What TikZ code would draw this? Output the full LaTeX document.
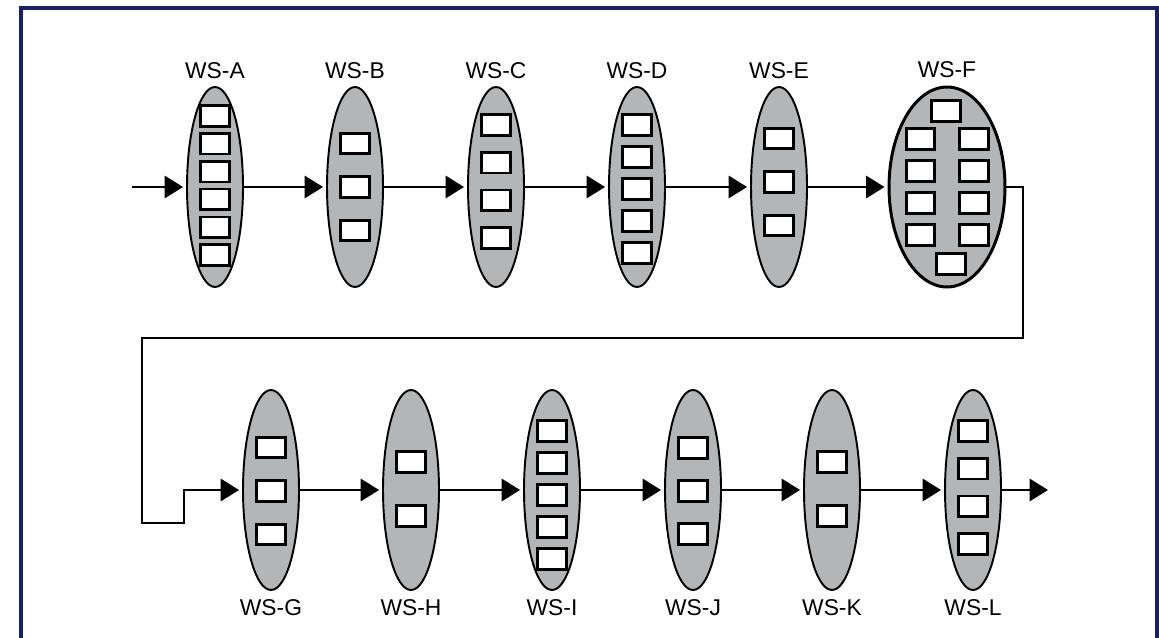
\documentclass[tikz,border=0pt]{standalone}
\usepackage{fontspec}
\setmainfont{Liberation Sans}
\usepackage{tikz}
\usetikzlibrary{arrows.meta,positioning,shapes.geometric}
\usepackage{xcolor}

\definecolor{wsgray}{RGB}{180,181,183}
\definecolor{framenavy}{RGB}{26,32,104}

% a column of n work places inside a station: name, count, pitch, shift
\newcommand{\wsslots}[4]{%
  \foreach \i in {1,...,#2}
    \node [slot] (#1-\i) at ([yshift={((#2+1)/2-\i)*#3+#4}]#1.center) {};%
}

\begin{document}
\begin{tikzpicture}[
    x=0.02cm,
    y=-0.02cm,
    >={Triangle[length=0.37cm,width=0.45cm]},
    font=\fontsize{13pt}{15pt}\selectfont,
    station/.style={
		ellipse,
		draw=black,
		line width=1.1pt,
		fill=wsgray,
		inner sep=0pt,
		minimum width=1.12cm,
		minimum height=4cm
	},
	slot/.style={
		rectangle,
		draw=black,
		line width=1.5pt,
		fill=white,
		inner sep=0pt,
		minimum width=0.57cm,
		minimum height=0.41cm
	},
	tag/.style={
		inner sep=0pt
	},
	flow/.style={
		line width=1.1pt,
		shorten >=0.06cm
	}
  ]

 \useasboundingbox (0,0) rectangle (1159,638);
 \draw [framenavy, line width=1.9pt] (21,8) rectangle (1157,690);

% // first line
 \node [station] (wsA) at (215,187) {};
 \node [station] (wsB) at (355,187) {};
 \node [station] (wsC) at (496,187) {};
 \node [station] (wsD) at (637,187) {};
 \node [station] (wsE) at (779,187) {};
 \node [station, minimum width=2.32cm, line width=1.7pt] (wsF) at (947,187) {};

 \wsslots{wsA}{6}{0.556cm}{0.03cm}
 \wsslots{wsB}{3}{0.87cm}{0cm}
 \wsslots{wsC}{4}{0.754cm}{0.11cm}
 \wsslots{wsD}{5}{0.64cm}{-0.04cm}
 \wsslots{wsE}{3}{0.87cm}{0.1cm}

 % the big one has two columns
 \node [slot] (wsF-top) at ([xshift=-0.02cm, yshift=1.52cm]wsF.center) {};
 \foreach \r/\dy in {1/0.96cm, 2/0.32cm, 3/-0.32cm, 4/-0.96cm} {
   \node [slot] (wsF-l\r) at ([xshift=-0.53cm, yshift=\dy]wsF.center) {};
   \node [slot] (wsF-r\r) at ([xshift=0.54cm, yshift=\dy]wsF.center) {};
 }
 \node [slot] (wsF-bot) at ([xshift=0.08cm, yshift=-1.54cm]wsF.center) {};

 \node [tag, above=0.14cm of wsA] {WS-A};
 \node [tag, above=0.14cm of wsB] {WS-B};
 \node [tag, above=0.14cm of wsC] {WS-C};
 \node [tag, above=0.14cm of wsD] {WS-D};
 \node [tag, above=0.14cm of wsE] {WS-E};
 \node [tag, above=0.14cm of wsF] {WS-F};

% // second line
 \node [station] (wsG) at (271,490) {};
 \node [station] (wsH) at (411,490) {};
 \node [station] (wsI) at (552,490) {};
 \node [station] (wsJ) at (693,490) {};
 \node [station] (wsK) at (832,490) {};
 \node [station] (wsL) at (973,490) {};

 \wsslots{wsG}{3}{0.87cm}{-0.02cm}
 \wsslots{wsH}{2}{1.08cm}{0.02cm}
 \wsslots{wsI}{5}{0.64cm}{-0.1cm}
 \wsslots{wsJ}{3}{0.86cm}{-0.02cm}
 \wsslots{wsK}{2}{1.08cm}{0.02cm}
 \wsslots{wsL}{4}{0.754cm}{0.05cm}

 \node [tag, below=0.16cm of wsG] {WS-G};
 \node [tag, below=0.16cm of wsH] {WS-H};
 \node [tag, below=0.16cm of wsI] {WS-I};
 \node [tag, below=0.16cm of wsJ] {WS-J};
 \node [tag, below=0.16cm of wsK] {WS-K};
 \node [tag, below=0.16cm of wsL] {WS-L};

% // connectors
 \coordinate (in) at (132,187);
 \coordinate (out) at (1048,490);
 \coordinate (back1) at (1023,338);
 \coordinate (back2) at (142,523);
 \coordinate (back3) at (184,523);

 \draw [flow, ->] (in) -- (wsA);
 \draw [flow, ->] (wsA) -- (wsB);
 \draw [flow, ->] (wsB) -- (wsC);
 \draw [flow, ->] (wsC) -- (wsD);
 \draw [flow, ->] (wsD) -- (wsE);
 \draw [flow, ->] (wsE) -- (wsF);
 \draw [flow, ->] (wsF.east) -| (back1) -| (back2) -- (back3) |- (wsG.west);
 \draw [flow, ->] (wsG) -- (wsH);
 \draw [flow, ->] (wsH) -- (wsI);
 \draw [flow, ->] (wsI) -- (wsJ);
 \draw [flow, ->] (wsJ) -- (wsK);
 \draw [flow, ->] (wsK) -- (wsL);
 \draw [flow, ->, shorten >=0pt] (wsL) -- (out);

\end{tikzpicture}
\end{document}
